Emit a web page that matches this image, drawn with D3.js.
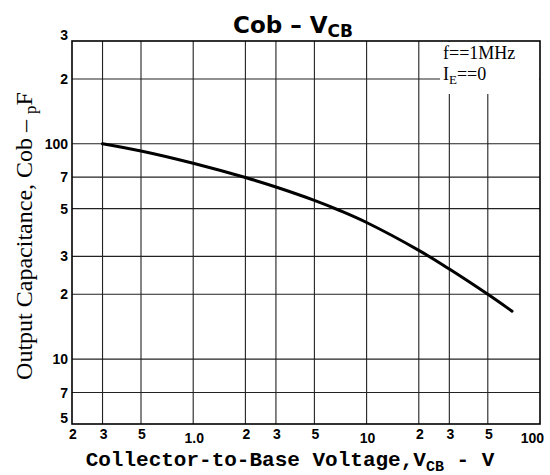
<!DOCTYPE html>
<html>
<head>
<meta charset="utf-8">
<script src="https://cdn.jsdelivr.net/npm/d3@7"></script>
<style>
  body { margin: 0; background: #fff; }
  .tick-lbl { font-family: "Liberation Sans", Arial, sans-serif; font-weight: bold; font-size: 14px; fill: #000; }
</style>
</head>
<body>
<div id="chart"></div>
<script>
// curve: collector-base voltage (V) vs output capacitance (pF)
var voltage = [0.3, 0.5, 1, 2, 3, 5, 7, 10, 20, 30, 50, 69];
var capacitance = [100, 92.6, 81.2, 69.7, 63, 54.6, 49, 43.1, 32, 26.2, 20, 16.7];

// grid lines and their labels
var xGrid = [0.3, 0.5, 1, 2, 3, 5, 10, 20, 30, 50];
var xTicks = [0.2, 0.3, 0.5, 1, 2, 3, 5, 10, 20, 30, 50, 100];
var xTickLabels = ["2", "3", "5", "1.0", "2", "3", "5", "10", "2", "3", "5", "100"];
var yGrid = [7, 10, 20, 30, 50, 70, 100, 200];
var yTicks = [5, 7, 10, 20, 30, 50, 70, 100, 200, 300];
var yTickLabels = ["5", "7", "10", "2", "3", "5", "7", "100", "2", "3"];

var width = 550, height = 475;
var plot = {left: 72, right: 540, top: 41, bottom: 424};

var svg = d3.select("#chart")
  .append("svg")
  .attr("width", width)
  .attr("height", height);

var x = d3.scaleLog()
  .domain([0.2, 100])
  .range([plot.left, plot.right]);

var y = d3.scaleLog()
  .domain([5, 300])
  .range([plot.bottom, plot.top]);

// grid
svg.append("g")
  .selectAll("line")
  .data(xGrid)
  .enter()
  .append("line")
  .attr("x1", d => x(d)).attr("x2", d => x(d))
  .attr("y1", plot.top).attr("y2", plot.bottom)
  .attr("stroke", "#222")
  .attr("stroke-width", 1.1);

svg.append("g")
  .selectAll("line")
  .data(yGrid)
  .enter()
  .append("line")
  .attr("x1", plot.left).attr("x2", plot.right)
  .attr("y1", d => y(d)).attr("y2", d => y(d))
  .attr("stroke", "#222")
  .attr("stroke-width", 1.1);

// frame
svg.append("rect")
  .attr("x", plot.left).attr("y", plot.top)
  .attr("width", plot.right - plot.left)
  .attr("height", plot.bottom - plot.top)
  .attr("fill", "none")
  .attr("stroke", "#000")
  .attr("stroke-width", 1.6);

// legend box covers the grid in the corner
svg.append("rect")
  .attr("x", 440).attr("y", plot.top + 1)
  .attr("width", plot.right - 441).attr("height", 52)
  .attr("fill", "#fff");

var legend = svg.append("g")
  .attr("font-family", "'Liberation Serif', 'Times New Roman', serif")
  .attr("font-size", 18);

legend.append("text")
  .attr("x", 443).attr("y", 59)
  .text("f==1MHz");

var ie = legend.append("text")
  .attr("x", 443).attr("y", 80);
ie.append("tspan").text("I");
ie.append("tspan").attr("font-size", 13).attr("dy", 4).text("E");
ie.append("tspan").attr("dy", -4).text("==0");

// the curve
var line = d3.line()
  .x(d => x(d[0]))
  .y(d => y(d[1]))
  .curve(d3.curveCatmullRom.alpha(0.5));

svg.append("path")
  .datum(d3.zip(voltage, capacitance))
  .attr("d", line)
  .attr("fill", "none")
  .attr("stroke", "#000")
  .attr("stroke-width", 3)
  .attr("stroke-linecap", "round");

// x tick labels
svg.append("g")
  .selectAll("text")
  .data(xTicks)
  .enter()
  .append("text")
  .attr("class", "tick-lbl")
  .attr("x", (d, i) => i == xTicks.length - 1 ? x(d) + 4 : x(d) + 1)
  .attr("y", (d, i) => (d == 1 || d == 10 || d == 100) ? 443 : 439)
  .attr("text-anchor", (d, i) => i == xTicks.length - 1 ? "end" : "middle")
  .text((d, i) => xTickLabels[i]);

// y tick labels
svg.append("g")
  .selectAll("text")
  .data(yTicks)
  .enter()
  .append("text")
  .attr("class", "tick-lbl")
  .attr("x", 68)
  .attr("y", d => (d == 5 || d == 300) ? y(d) - 1 : y(d) + 5)
  .attr("text-anchor", "end")
  .text((d, i) => yTickLabels[i]);

// title
var title = svg.append("text")
  .attr("x", 293).attr("y", 33)
  .attr("text-anchor", "middle")
  .attr("font-family", "'DejaVu Sans', sans-serif")
  .attr("font-weight", "bold")
  .attr("font-size", 23);
title.append("tspan").text("Cob  \u2013  V");
title.append("tspan").attr("font-size", 17).attr("dy", 4).text("CB");

// x axis title
var xTitle = svg.append("text")
  .attr("x", 290).attr("y", 466)
  .attr("text-anchor", "middle")
  .attr("font-family", "'Liberation Mono', 'Courier New', monospace")
  .attr("font-weight", "bold")
  .attr("font-size", 21);
xTitle.append("tspan").text("Collector-to-Base Voltage,V");
xTitle.append("tspan").attr("font-size", 15).attr("dy", 5).text("CB");
xTitle.append("tspan").attr("dy", -5).text(" - V");

// y axis title
var yTitle = svg.append("text")
  .attr("transform", "translate(32, 236) rotate(-90)")
  .attr("text-anchor", "middle")
  .attr("font-family", "'Liberation Serif', 'Times New Roman', serif")
  .attr("font-size", 24);
yTitle.append("tspan").text("Output Capacitance, Cob \u2013 ");
yTitle.append("tspan").attr("font-size", 17).attr("dy", 4).text("p");
yTitle.append("tspan").attr("dy", -4).text("F");
</script>
</body>
</html>
